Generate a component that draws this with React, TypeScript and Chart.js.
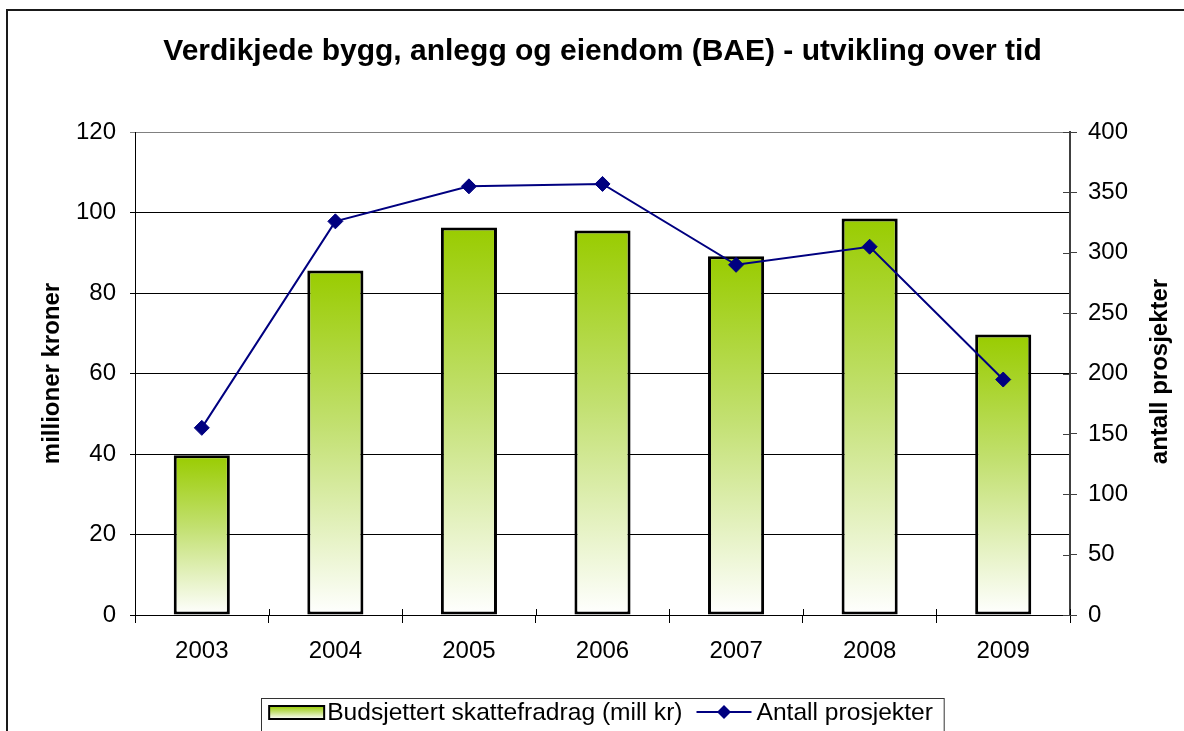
import React, { useEffect, useRef } from 'react';
import { Chart, registerables } from 'chart.js';

Chart.register(...registerables);

const TITLE = 'Verdikjede bygg, anlegg og eiendom (BAE) - utvikling over tid';
const YEARS = ['2003', '2004', '2005', '2006', '2007', '2008', '2009'];
const BUDGET = [39.7, 85.6, 96.3, 95.5, 89.1, 98.5, 69.7];
const PROJECTS = [155, 326, 355, 357, 290, 305, 195];
const BAR_LABEL = 'Budsjettert skattefradrag (mill kr)';
const LINE_LABEL = 'Antall prosjekter';
const Y_LEFT_TITLE = 'millioner kroner';
const Y_RIGHT_TITLE = 'antall prosjekter';

const FONT = "'Liberation Sans', Arial, sans-serif";
const GREEN = '#99cc00';
const MID_GREEN = '#c2e070';
const WHITE = '#ffffff';
const NAVY = '#000080';

function makeGradient(ctx: CanvasRenderingContext2D, top: number, bottom: number) {
  const g = ctx.createLinearGradient(0, top, 0, bottom);
  g.addColorStop(0, GREEN);
  g.addColorStop(0.45, MID_GREEN);
  g.addColorStop(1, WHITE);
  return g;
}

const barGradient = (c: any) => {
  const chart = c.chart;
  if (!chart.chartArea || c.type !== 'data') return GREEN;
  const ys = chart.scales.y;
  const top = ys.getPixelForValue(c.raw);
  const base = ys.getPixelForValue(0);
  return makeGradient(chart.ctx, top, base);
};

function drawDiamond(ctx: CanvasRenderingContext2D, x: number, y: number, r: number) {
  ctx.beginPath();
  ctx.moveTo(x, y - r);
  ctx.lineTo(x + r, y);
  ctx.lineTo(x, y + r);
  ctx.lineTo(x - r, y);
  ctx.closePath();
  ctx.fill();
}

const decorPlugin = {
  id: 'decor',
  beforeDraw(chart: any) {
    const ctx = chart.ctx;
    ctx.save();
    ctx.fillStyle = '#fff';
    ctx.fillRect(0, 0, chart.width, chart.height);
    ctx.restore();
  },
  afterDraw(chart: any) {
    const ctx: CanvasRenderingContext2D = chart.ctx;
    const ca = chart.chartArea;
    const midX = (ca.left + ca.right) / 2;
    const midY = (ca.top + ca.bottom) / 2;
    ctx.save();

    // inner halves of the category tick marks (crossing the x axis)
    const xs = chart.scales.x;
    ctx.strokeStyle = '#000';
    ctx.lineWidth = 1;
    const n = YEARS.length;
    for (let i = 0; i <= n; i++) {
      let px;
      if (i === 0) px = ca.left;
      else if (i === n) px = ca.right;
      else px = (xs.getPixelForValue(i - 1) + xs.getPixelForValue(i)) / 2;
      px = Math.round(px) + 0.5;
      ctx.beginPath();
      ctx.moveTo(px, ca.bottom - 6);
      ctx.lineTo(px, ca.bottom);
      ctx.stroke();
    }
    // inner halves of right axis ticks
    const y1 = chart.scales.y1;
    ctx.strokeStyle = '#404040';
    for (const t of y1.ticks) {
      const py = Math.round(y1.getPixelForValue(t.value)) + 0.5;
      ctx.beginPath();
      ctx.moveTo(ca.right - 7, py);
      ctx.lineTo(ca.right, py);
      ctx.stroke();
    }

    // outer frame
    ctx.strokeStyle = '#1a1a1a';
    ctx.lineWidth = 2;
    ctx.strokeRect(7, 10, chart.width + 40, chart.height + 40);

    // title
    ctx.fillStyle = '#000';
    ctx.textAlign = 'center';
    ctx.textBaseline = 'middle';
    ctx.font = `bold 30px ${FONT}`;
    ctx.fillText(TITLE, midX, 52);

    // axis titles
    ctx.font = `bold 24px ${FONT}`;
    ctx.save();
    ctx.translate(52, midY);
    ctx.rotate(-Math.PI / 2);
    ctx.fillText(Y_LEFT_TITLE, 0, 0);
    ctx.restore();
    ctx.save();
    ctx.translate(chart.width - 24, midY - 2);
    ctx.rotate(-Math.PI / 2);
    ctx.fillText(Y_RIGHT_TITLE, 0, 0);
    ctx.restore();

    // legend
    ctx.font = `24.6px ${FONT}`;
    const w1 = ctx.measureText(BAR_LABEL).width;
    const w2 = ctx.measureText(LINE_LABEL).width;
    const sw = 55;
    const padL = 8, padR = 11, g1 = 3, g2 = 14, g3 = 5;
    const total = padL + sw + g1 + w1 + g2 + sw + g3 + w2 + padR;
    const x0 = midX - total / 2;
    const top = chart.height - 33;
    const cy = top + 14;
    ctx.fillStyle = '#fff';
    ctx.fillRect(x0, top, total, 60);
    ctx.strokeStyle = '#333';
    ctx.lineWidth = 1;
    ctx.strokeRect(Math.round(x0) + 0.5, top + 0.5, total, 60);

    let x = x0 + padL;
    ctx.fillStyle = makeGradient(ctx, cy - 6, cy + 7);
    ctx.fillRect(x, cy - 6, sw, 13);
    ctx.strokeStyle = '#000';
    ctx.lineWidth = 2;
    ctx.strokeRect(x, cy - 6, sw, 13);
    x += sw + g1;
    ctx.fillStyle = '#000';
    ctx.textAlign = 'left';
    ctx.fillText(BAR_LABEL, x, cy + 1);
    x += w1 + g2;
    ctx.strokeStyle = NAVY;
    ctx.lineWidth = 2;
    ctx.beginPath();
    ctx.moveTo(x, cy);
    ctx.lineTo(x + sw, cy);
    ctx.stroke();
    ctx.fillStyle = NAVY;
    drawDiamond(ctx, x + sw / 2, cy, 7);
    x += sw + g3;
    ctx.fillStyle = '#000';
    ctx.fillText(LINE_LABEL, x, cy + 1);
    ctx.restore();
  },
};

export default function App() {
  const ref = useRef<HTMLCanvasElement | null>(null);
  useEffect(() => {
    if (!ref.current) return;
    const tickFont = { family: FONT, size: 24 };
    const chart = new Chart(ref.current, {
      type: 'bar',
      data: {
        labels: YEARS,
        datasets: [
          {
            type: 'line',
            label: LINE_LABEL,
            data: PROJECTS,
            yAxisID: 'y1',
            borderColor: NAVY,
            backgroundColor: NAVY,
            borderWidth: 2,
            pointStyle: 'rectRot',
            pointRadius: 7.5,
            pointBackgroundColor: NAVY,
            pointBorderColor: NAVY,
            pointBorderWidth: 1,
            tension: 0,
            order: 1,
          } as any,
          {
            type: 'bar',
            label: BAR_LABEL,
            data: BUDGET,
            yAxisID: 'y',
            backgroundColor: barGradient,
            borderColor: '#000',
            borderWidth: 3,
            borderSkipped: false,
            barPercentage: 0.42,
            categoryPercentage: 1,
            order: 2,
          } as any,
        ],
      },
      options: {
        responsive: false,
        animation: false,
        devicePixelRatio: 1,
        layout: { padding: { top: 132, left: 0, right: 0, bottom: 0 } },
        plugins: {
          legend: { display: false },
          title: { display: false },
          tooltip: { enabled: false },
        },
        scales: {
          x: {
            type: 'category',
            offset: true,
            grid: { offset: true, drawOnChartArea: false, color: '#000', tickLength: 8, lineWidth: 1 },
            border: { color: '#000', width: 1 },
            ticks: { font: tickFont, color: '#000', padding: 14, maxRotation: 0 },
            afterFit: (s: any) => {
              s.height = 116;
            },
          },
          y: {
            position: 'left',
            min: 0,
            max: 120,
            ticks: { stepSize: 20, font: tickFont, color: '#000', padding: 14 },
            grid: {
              color: (c: any) => (c.tick && c.tick.value === 120 ? '#808080' : '#000'),
              tickLength: 5,
              lineWidth: 1,
            },
            border: { color: '#000', width: 1 },
            afterFit: (s: any) => {
              s.width = 135;
            },
          },
          y1: {
            position: 'right',
            min: 0,
            max: 400,
            ticks: { stepSize: 50, font: tickFont, color: '#000', padding: 11 },
            grid: { drawOnChartArea: false, tickLength: 7, color: '#404040' },
            border: { color: '#404040', width: 2 },
            afterFit: (s: any) => {
              s.width = 114;
            },
          },
        },
      } as any,
      plugins: [decorPlugin],
    });
    return () => chart.destroy();
  }, []);

  return (
    <div style={{ position: 'fixed', left: 0, top: 0, width: 1184, height: 731, background: '#fff' }}>
      <canvas ref={ref} width={1184} height={731} style={{ display: 'block', width: 1184, height: 731 }} />
    </div>
  );
}
